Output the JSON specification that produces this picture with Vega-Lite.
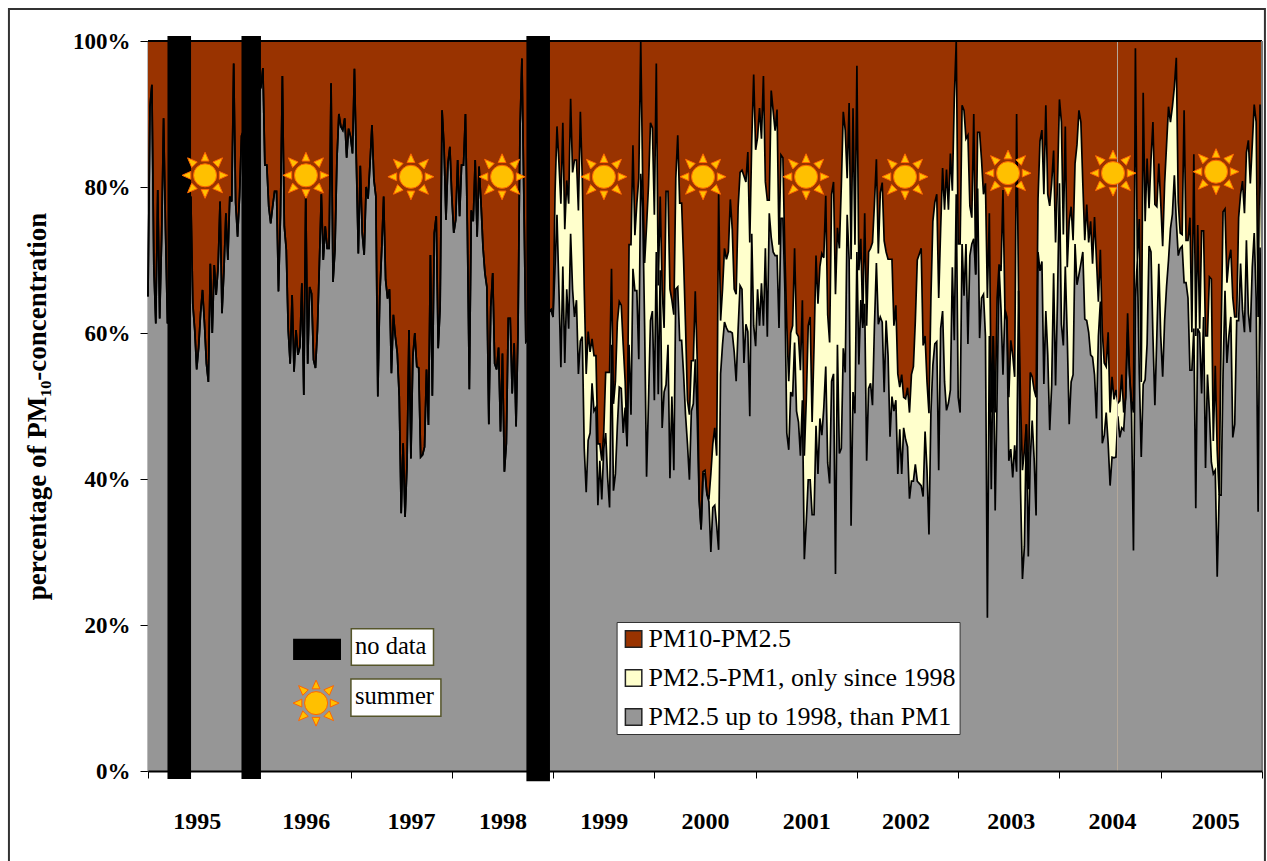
{"$schema":"https://vega.github.io/schema/vega-lite/v6.json","width":1114,"height":730,"autosize":"none","padding":{"left":148,"top":41,"right":5,"bottom":90},"background":"white","config":{"view":{"stroke":null},"font":"Liberation Serif"},
"datasets":{"pm":[
{"w":0,"a":65,"b":65},{"w":1,"a":91,"b":91},{"w":2,"a":94,"b":94},{"w":3,"a":69,"b":69},{"w":4,"a":61.3,"b":61.3},{"w":5,"a":79.6,"b":79.6},{"w":6,"a":62,"b":62},{"w":7,"a":73,"b":73},{"w":8,"a":89.4,"b":89.4},{"w":9,"a":74,"b":74},{"w":10,"a":61.3,"b":61.3},{"w":22,"a":78.7,"b":78.7},{"w":23,"a":64,"b":64},{"w":24,"a":60.4,"b":60.4},{"w":25,"a":55,"b":55},{"w":26,"a":58,"b":58},{"w":27,"a":62.7,"b":62.7},{"w":28,"a":65.9,"b":65.9},{"w":29,"a":61.3,"b":61.3},{"w":30,"a":55.8,"b":55.8},{"w":31,"a":53.3,"b":53.3},{"w":32,"a":69.5,"b":69.5},{"w":33,"a":60,"b":60},{"w":34,"a":69.3,"b":69.3},{"w":35,"a":65.2,"b":65.2},{"w":36,"a":69,"b":69},{"w":37,"a":78,"b":78},{"w":38,"a":62.7,"b":62.7},{"w":39,"a":68.6,"b":68.6},{"w":40,"a":76.4,"b":76.4},{"w":41,"a":70,"b":70},{"w":42,"a":78.7,"b":78.7},{"w":43,"a":78,"b":78},{"w":44,"a":96.9,"b":96.9},{"w":45,"a":77.8,"b":77.8},{"w":46,"a":73.2,"b":73.2},{"w":47,"a":78.7,"b":78.7},{"w":48,"a":87,"b":87},{"w":58,"a":93.7,"b":93.7},{"w":59,"a":96.3,"b":96.3},{"w":60,"a":83,"b":83},{"w":61,"a":83,"b":83},{"w":62,"a":77.3,"b":77.3},{"w":63,"a":75,"b":75},{"w":64,"a":77.3,"b":77.3},{"w":65,"a":79.4,"b":79.4},{"w":66,"a":79.4,"b":79.4},{"w":67,"a":65.7,"b":65.7},{"w":68,"a":76,"b":76},{"w":69,"a":95.2,"b":95.2},{"w":70,"a":74.6,"b":74.6},{"w":71,"a":71.4,"b":71.4},{"w":72,"a":60.4,"b":60.4},{"w":73,"a":55.8,"b":55.8},{"w":74,"a":65.2,"b":65.2},{"w":75,"a":54.7,"b":54.7},{"w":76,"a":60.4,"b":60.4},{"w":77,"a":57,"b":57},{"w":78,"a":58.1,"b":58.1},{"w":79,"a":66.8,"b":66.8},{"w":80,"a":51.5,"b":51.5},{"w":81,"a":79,"b":79},{"w":82,"a":55.8,"b":55.8},{"w":83,"a":66.3,"b":66.3},{"w":84,"a":65.4,"b":65.4},{"w":85,"a":56.3,"b":56.3},{"w":86,"a":55.2,"b":55.2},{"w":87,"a":60.4,"b":60.4},{"w":88,"a":69.5,"b":69.5},{"w":89,"a":79,"b":79},{"w":90,"a":70,"b":70},{"w":91,"a":74.6,"b":74.6},{"w":92,"a":71.6,"b":71.6},{"w":93,"a":71.6,"b":71.6},{"w":94,"a":94.2,"b":94.2},{"w":95,"a":67,"b":67},{"w":96,"a":71.4,"b":71.4},{"w":97,"a":83.7,"b":83.7},{"w":98,"a":90,"b":90},{"w":99,"a":88.3,"b":88.3},{"w":100,"a":87.8,"b":87.8},{"w":101,"a":89.4,"b":89.4},{"w":102,"a":84,"b":84},{"w":103,"a":88,"b":88},{"w":104,"a":86.9,"b":86.9},{"w":105,"a":84.6,"b":84.6},{"w":106,"a":96.2,"b":96.2},{"w":107,"a":83.2,"b":83.2},{"w":108,"a":70.9,"b":70.9},{"w":109,"a":82.9,"b":82.9},{"w":110,"a":73.7,"b":73.7},{"w":111,"a":70.7,"b":70.7},{"w":112,"a":80,"b":80},{"w":113,"a":78.4,"b":78.4},{"w":114,"a":83.2,"b":83.2},{"w":115,"a":88.5,"b":88.5},{"w":116,"a":81,"b":81},{"w":117,"a":78.7,"b":78.7},{"w":118,"a":51.3,"b":51.3},{"w":119,"a":65,"b":65},{"w":120,"a":71.4,"b":71.4},{"w":121,"a":78.7,"b":78.7},{"w":122,"a":67.3,"b":67.3},{"w":123,"a":64.7,"b":64.7},{"w":124,"a":66,"b":66},{"w":125,"a":54.5,"b":54.5},{"w":126,"a":62.5,"b":62.5},{"w":127,"a":59.5,"b":59.5},{"w":128,"a":57.2,"b":57.2},{"w":129,"a":51.3,"b":51.3},{"w":130,"a":35.3,"b":35.3},{"w":131,"a":44.9,"b":44.9},{"w":132,"a":34.8,"b":34.8},{"w":133,"a":42,"b":42},{"w":134,"a":60.4,"b":60.4},{"w":135,"a":42.8,"b":42.8},{"w":136,"a":56.8,"b":56.8},{"w":137,"a":60,"b":60},{"w":138,"a":55.4,"b":55.4},{"w":139,"a":55.2,"b":55.2},{"w":140,"a":43,"b":43},{"w":141,"a":43.3,"b":43.3},{"w":142,"a":44.4,"b":44.4},{"w":143,"a":55,"b":55},{"w":144,"a":47.4,"b":47.4},{"w":145,"a":70.7,"b":70.7},{"w":146,"a":51.4,"b":51.4},{"w":147,"a":73.7,"b":73.7},{"w":148,"a":76,"b":76},{"w":149,"a":57.9,"b":57.9},{"w":150,"a":63.6,"b":63.6},{"w":151,"a":90.5,"b":90.5},{"w":152,"a":85.5,"b":85.5},{"w":153,"a":75.5,"b":75.5},{"w":154,"a":83.2,"b":83.2},{"w":155,"a":85.5,"b":85.5},{"w":156,"a":78.7,"b":78.7},{"w":157,"a":73.7,"b":73.7},{"w":158,"a":75.5,"b":75.5},{"w":159,"a":83.7,"b":83.7},{"w":160,"a":76,"b":76},{"w":161,"a":83,"b":83},{"w":162,"a":83,"b":83},{"w":163,"a":90,"b":90},{"w":164,"a":74,"b":74},{"w":165,"a":52.3,"b":52.3},{"w":166,"a":76.8,"b":76.8},{"w":167,"a":75.3,"b":75.3},{"w":168,"a":83.7,"b":83.7},{"w":169,"a":73.2,"b":73.2},{"w":170,"a":82.8,"b":82.8},{"w":171,"a":77.8,"b":77.8},{"w":172,"a":71.8,"b":71.8},{"w":173,"a":68.2,"b":68.2},{"w":174,"a":66.3,"b":66.3},{"w":175,"a":47.5,"b":47.5},{"w":176,"a":63.6,"b":63.6},{"w":177,"a":68.2,"b":68.2},{"w":178,"a":55.8,"b":55.8},{"w":179,"a":55,"b":55},{"w":180,"a":58,"b":58},{"w":181,"a":46.5,"b":46.5},{"w":182,"a":57.2,"b":57.2},{"w":183,"a":41,"b":41},{"w":184,"a":44.9,"b":44.9},{"w":185,"a":62,"b":62},{"w":186,"a":62,"b":62},{"w":187,"a":51.7,"b":51.7},{"w":188,"a":58.6,"b":58.6},{"w":189,"a":47.2,"b":47.2},{"w":190,"a":60.4,"b":60.4},{"w":191,"a":87.8,"b":87.8},{"w":192,"a":97.6,"b":97.6},{"w":193,"a":78.7,"b":78.7},{"w":194,"a":58.8,"b":58.8},
{"w":207,"a":63.2,"b":63.2},{"w":208,"a":62.2,"b":62.2},{"w":209,"a":69,"b":79.2},{"w":210,"a":76.2,"b":88.3},{"w":211,"a":66,"b":83.3},{"w":212,"a":55.3,"b":77.7},{"w":213,"a":69.1,"b":88.8},{"w":214,"a":55.9,"b":74.2},{"w":215,"a":66,"b":80.9},{"w":216,"a":60.6,"b":77.7},{"w":217,"a":73.6,"b":92.1},{"w":218,"a":66,"b":82},{"w":219,"a":62.2,"b":83.7},{"w":220,"a":64.5,"b":83.7},{"w":221,"a":54.4,"b":76.8},{"w":222,"a":58.9,"b":90.3},{"w":223,"a":59.5,"b":81.2},{"w":224,"a":44.2,"b":66},{"w":225,"a":38.2,"b":54.4},{"w":226,"a":45.3,"b":60.2},{"w":227,"a":46.3,"b":57.4},{"w":228,"a":53.1,"b":59.2},{"w":229,"a":49.3,"b":56.9},{"w":230,"a":49.8,"b":56.9},{"w":231,"a":36.4,"b":44.8},{"w":232,"a":42.5,"b":44.8},{"w":233,"a":37.2,"b":42.5},{"w":234,"a":44.2,"b":46.3},{"w":235,"a":46.3,"b":54.6},{"w":236,"a":40.2,"b":54.6},{"w":237,"a":36.1,"b":54.6},{"w":238,"a":58.4,"b":68.8},{"w":239,"a":38.4,"b":50.3},{"w":240,"a":40.7,"b":53.4},{"w":241,"a":47.3,"b":61.5},{"w":242,"a":52.6,"b":64.3},{"w":243,"a":52.4,"b":63.8},{"w":244,"a":46.3,"b":58.4},{"w":245,"a":49.8,"b":53.4},{"w":246,"a":44.5,"b":44.5},{"w":247,"a":58.4,"b":72.1},{"w":248,"a":48.8,"b":72.1},{"w":249,"a":68.8,"b":85.7},{"w":250,"a":65.8,"b":73.4},{"w":251,"a":65.8,"b":77.7},{"w":252,"a":56.4,"b":81.2},{"w":253,"a":81.8,"b":100},{"w":254,"a":77.2,"b":81.2},{"w":255,"a":61,"b":69.6},{"w":256,"a":40.3,"b":74.7},{"w":257,"a":50.8,"b":80.2},{"w":258,"a":61.7,"b":88.8},{"w":259,"a":63,"b":88.1},{"w":260,"a":50.8,"b":76.2},{"w":261,"a":71.1,"b":96.9},{"w":262,"a":51.6,"b":66.5},{"w":263,"a":68.6,"b":78.7},{"w":264,"a":47,"b":66},{"w":265,"a":51.9,"b":60.7},{"w":266,"a":52.9,"b":79.4},{"w":267,"a":58.4,"b":79.4},{"w":268,"a":40.1,"b":66},{"w":269,"a":51.3,"b":64.5},{"w":270,"a":41.2,"b":62.5},{"w":271,"a":66,"b":81.2},{"w":272,"a":66.3,"b":87.1},{"w":273,"a":59,"b":77.8},{"w":274,"a":59,"b":77.8},{"w":275,"a":54.4,"b":70.1},{"w":276,"a":48.8,"b":61},{"w":277,"a":44.8,"b":50.8},{"w":278,"a":39.9,"b":48.8},{"w":279,"a":49.3,"b":56.2},{"w":280,"a":50.3,"b":56.2},{"w":281,"a":56.4,"b":65.7},{"w":282,"a":48.3,"b":56.4},{"w":283,"a":37.2,"b":37.2},{"w":284,"a":33.1,"b":33.1},{"w":285,"a":40.7,"b":41},{"w":286,"a":40.7,"b":41.2},{"w":287,"a":37.9,"b":37.9},{"w":288,"a":36.9,"b":37.2},{"w":289,"a":30,"b":40.7},{"w":290,"a":36.1,"b":44.8},{"w":291,"a":36.4,"b":47},{"w":292,"a":33.6,"b":43.2},{"w":293,"a":30.3,"b":79},{"w":294,"a":54.4,"b":61.7},{"w":295,"a":58.4,"b":66},{"w":296,"a":61.5,"b":71.6},{"w":297,"a":60.7,"b":70.1},{"w":298,"a":60.2,"b":71.1},{"w":299,"a":60.2,"b":78.3},{"w":300,"a":60,"b":74.2},{"w":301,"a":57.4,"b":66},{"w":302,"a":53.4,"b":65.3},{"w":303,"a":60.5,"b":77.2},{"w":304,"a":66.5,"b":82},{"w":305,"a":66,"b":82.3},{"w":306,"a":55.9,"b":81.5},{"w":307,"a":61.2,"b":80.7},{"w":308,"a":60.2,"b":84.8},{"w":309,"a":48.6,"b":72.4},{"w":310,"a":73.6,"b":86.3},{"w":311,"a":61,"b":95.4},{"w":312,"a":58.2,"b":85.1},{"w":313,"a":66,"b":86.8},{"w":314,"a":61,"b":90.8},{"w":315,"a":66.8,"b":86.6},{"w":316,"a":61,"b":95.2},{"w":317,"a":71.6,"b":80.7},{"w":318,"a":59.5,"b":78.2},{"w":319,"a":76.4,"b":78.2},{"w":320,"a":73.1,"b":93.2},{"w":321,"a":71.1,"b":90.4},{"w":322,"a":70.6,"b":87.7},{"w":323,"a":70.6,"b":90.6},{"w":324,"a":60.7,"b":72.1},{"w":325,"a":75.7,"b":84.4},{"w":326,"a":75.7,"b":84},{"w":327,"a":66,"b":71.1},{"w":328,"a":46.3,"b":61},{"w":329,"a":44,"b":53.4},{"w":330,"a":51.9,"b":60},{"w":331,"a":51.3,"b":61},{"w":332,"a":58.7,"b":71.6},{"w":333,"a":49.3,"b":60},{"w":334,"a":47.8,"b":59.5},{"w":335,"a":43.2,"b":54.9},{"w":336,"a":50.8,"b":64.5},{"w":337,"a":29,"b":43.2},{"w":338,"a":34.1,"b":50.8},{"w":339,"a":39.9,"b":61},{"w":340,"a":39.9,"b":62.2},{"w":341,"a":35.1,"b":47.8},{"w":342,"a":35.1,"b":58.4},{"w":343,"a":47.3,"b":70.6},{"w":344,"a":40.7,"b":64},{"w":345,"a":48.3,"b":69.1},{"w":346,"a":46,"b":70.9},{"w":347,"a":49.8,"b":70.3},{"w":348,"a":55.4,"b":78.8},{"w":349,"a":42.2,"b":62.5},{"w":350,"a":39.4,"b":58.7},{"w":351,"a":53.4,"b":79},{"w":352,"a":54.4,"b":80.7},{"w":353,"a":27,"b":65.3},{"w":354,"a":58.4,"b":74.4},{"w":355,"a":43.5,"b":71.6},{"w":356,"a":44.2,"b":80.2},{"w":357,"a":57.9,"b":90.3},{"w":358,"a":54.6,"b":87.8},{"w":359,"a":76.2,"b":81.2},{"w":360,"a":70.1,"b":91.5},{"w":361,"a":33.6,"b":70.1},{"w":362,"a":51.9,"b":90.8},{"w":363,"a":49,"b":72.1},{"w":364,"a":71.1,"b":96.6},{"w":365,"a":55.7,"b":68.6},{"w":366,"a":64.5,"b":72.9},{"w":367,"a":60.7,"b":61.5},{"w":368,"a":64,"b":76.4},{"w":369,"a":42.5,"b":61},{"w":370,"a":52.4,"b":71.1},{"w":371,"a":53.1,"b":71.6},{"w":372,"a":50.1,"b":72.4},{"w":373,"a":61,"b":77.7},{"w":374,"a":69.6,"b":83.8},{"w":375,"a":61.2,"b":70.9},{"w":376,"a":62.2,"b":79.2},{"w":377,"a":61.5,"b":80.6},{"w":378,"a":51.9,"b":72.6},{"w":379,"a":61.7,"b":71.1},{"w":380,"a":56.9,"b":70.1},{"w":381,"a":45.8,"b":70.1},{"w":382,"a":51.3,"b":70.1},{"w":383,"a":49.3,"b":61},{"w":384,"a":50.8,"b":63.8},{"w":385,"a":40.7,"b":54.4},{"w":386,"a":46.8,"b":52.6},{"w":387,"a":40.7,"b":54.3},{"w":388,"a":47,"b":51.2},{"w":389,"a":45.4,"b":51},{"w":390,"a":44.4,"b":52.5},{"w":391,"a":37.3,"b":49.1},{"w":392,"a":39.7,"b":54.3},{"w":393,"a":39.7,"b":55.4},{"w":394,"a":42,"b":61.7},{"w":395,"a":39.7,"b":70},{"w":396,"a":39.4,"b":70.8},{"w":397,"a":39.1,"b":71.6},{"w":398,"a":37.6,"b":58.3},{"w":399,"a":46.5,"b":59.6},{"w":400,"a":41.2,"b":53.3},{"w":401,"a":32.4,"b":49},{"w":402,"a":49.1,"b":64.8},{"w":403,"a":55.6,"b":75.3},{"w":404,"a":58.5,"b":77.9},{"w":405,"a":58.8,"b":79},{"w":406,"a":41.2,"b":64.8},{"w":407,"a":60.6,"b":74.3},{"w":408,"a":63,"b":82.6},{"w":409,"a":53.3,"b":76.9},{"w":410,"a":49.4,"b":82.4},{"w":411,"a":50.4,"b":76.9},{"w":412,"a":52.2,"b":84.6},{"w":413,"a":69,"b":79.5},{"w":414,"a":59,"b":92.1},{"w":415,"a":79,"b":100},{"w":416,"a":51.2,"b":72.2},{"w":417,"a":49.1,"b":72.2},{"w":418,"a":72.2,"b":91.2},{"w":419,"a":65.1,"b":90.5},{"w":420,"a":72.2,"b":86.6},{"w":421,"a":58.5,"b":87.1},{"w":422,"a":70.6,"b":77.4},{"w":423,"a":72.2,"b":75.8},{"w":424,"a":72.9,"b":90},{"w":425,"a":68,"b":68},{"w":426,"a":79.8,"b":87.5},{"w":427,"a":59.3,"b":87.5},{"w":428,"a":64.8,"b":83.7},{"w":429,"a":65.3,"b":79},{"w":430,"a":59.6,"b":80.5},{"w":431,"a":21,"b":64.8},{"w":432,"a":59.6,"b":76.4},{"w":433,"a":38.6,"b":49.1},{"w":434,"a":59.6,"b":59.6},{"w":435,"a":35.7,"b":49.1},{"w":436,"a":51.7,"b":64.8},{"w":437,"a":69,"b":69.4},{"w":438,"a":63.2,"b":68.5},{"w":439,"a":54.3,"b":79.6},{"w":440,"a":63.2,"b":63.2},{"w":441,"a":61.7,"b":62.2},{"w":442,"a":42.5,"b":51.2},{"w":443,"a":44.1,"b":59},{"w":444,"a":40.2,"b":57},{"w":445,"a":44.6,"b":54},{"w":446,"a":41,"b":90},{"w":447,"a":65.8,"b":65.8},{"w":448,"a":38.6,"b":50.7},{"w":449,"a":26.3,"b":41.2},{"w":450,"a":30.8,"b":43.9},{"w":451,"a":47.5,"b":47.5},{"w":452,"a":29.4,"b":38.6},{"w":453,"a":42.8,"b":54.6},{"w":454,"a":48,"b":54},{"w":455,"a":42.8,"b":52.2},{"w":456,"a":35,"b":51.2},{"w":457,"a":71.1,"b":78.4},{"w":458,"a":68.5,"b":86.3},{"w":459,"a":69.8,"b":87.8},{"w":460,"a":53,"b":79},{"w":461,"a":63,"b":91.2},{"w":462,"a":57,"b":79},{"w":463,"a":46.7,"b":77.4},{"w":464,"a":52.8,"b":80.5},{"w":465,"a":68.2,"b":85},{"w":466,"a":52.8,"b":72.4},{"w":467,"a":64.8,"b":80.5},{"w":468,"a":80.5,"b":92},{"w":469,"a":61.2,"b":88.9},{"w":470,"a":58.3,"b":73.5},{"w":471,"a":69.1,"b":88.3},{"w":472,"a":59.6,"b":69},{"w":473,"a":47.5,"b":75.3},{"w":474,"a":53.3,"b":77.3},{"w":475,"a":54.3,"b":72.7},{"w":476,"a":72.2,"b":83.2},{"w":477,"a":66.6,"b":85.8},{"w":478,"a":68,"b":90.5},{"w":479,"a":69.5,"b":88.9},{"w":480,"a":71.1,"b":80.5},{"w":481,"a":61.9,"b":72.7},{"w":482,"a":61.7,"b":77.6},{"w":483,"a":60.1,"b":72.4},{"w":484,"a":57,"b":75.3},{"w":485,"a":56.7,"b":69.5},{"w":486,"a":54.3,"b":75.9},{"w":487,"a":48.3,"b":70},{"w":488,"a":59.6,"b":64.3},{"w":489,"a":64.3,"b":71.4},{"w":490,"a":44.9,"b":60.1},{"w":491,"a":46,"b":55.9},{"w":492,"a":49.1,"b":55.4},{"w":493,"a":44.9,"b":60.1},{"w":494,"a":39.1,"b":49.1},{"w":495,"a":43,"b":54},{"w":496,"a":42.9,"b":50.9},{"w":497,"a":43,"b":52.2},{"w":498,"a":48.6,"b":50.4},{"w":499,"a":45.7,"b":50.7},{"w":500,"a":47,"b":54.3},{"w":501,"a":46.7,"b":49.1},{"w":502,"a":51.2,"b":51.2},{"w":503,"a":60.1,"b":62.7},{"w":504,"a":54.3,"b":54.3},{"w":505,"a":49.1,"b":50.7},{"w":506,"a":30.2,"b":49.1},{"w":507,"a":64.8,"b":99},{"w":508,"a":70,"b":70},{"w":509,"a":54.3,"b":75.6},{"w":510,"a":43,"b":53.3},{"w":511,"a":53,"b":92.9},{"w":512,"a":53.6,"b":75.3},{"w":513,"a":58.5,"b":83.9},{"w":514,"a":71.9,"b":77.1},{"w":515,"a":71.1,"b":83.7},{"w":516,"a":59.6,"b":88.9},{"w":517,"a":50.1,"b":77.6},{"w":518,"a":59.6,"b":77.3},{"w":519,"a":69.5,"b":83.2},{"w":520,"a":59.6,"b":77.9},{"w":521,"a":54,"b":71.9},{"w":522,"a":61.7,"b":80.5},{"w":523,"a":66.4,"b":85.8},{"w":524,"a":70,"b":91},{"w":525,"a":74.3,"b":88.9},{"w":526,"a":76.3,"b":91},{"w":527,"a":81.6,"b":93.7},{"w":528,"a":75.3,"b":97.7},{"w":529,"a":70.6,"b":77.9},{"w":530,"a":71.6,"b":73.7},{"w":531,"a":71.9,"b":73.5},{"w":532,"a":66.9,"b":90.5},{"w":533,"a":66.9,"b":72.7},{"w":534,"a":64.8,"b":72.7},{"w":535,"a":54.9,"b":75.8},{"w":536,"a":54.9,"b":60.1},{"w":537,"a":60.6,"b":84.5},{"w":538,"a":36,"b":59.6},{"w":539,"a":60.6,"b":74.8},{"w":540,"a":60,"b":60.6},{"w":541,"a":51.7,"b":74},{"w":542,"a":62.2,"b":74},{"w":543,"a":41.5,"b":59.6},{"w":544,"a":54.3,"b":59.6},{"w":545,"a":49.1,"b":67.7},{"w":546,"a":42.3,"b":67.4},{"w":547,"a":40.7,"b":45.2},{"w":548,"a":41.2,"b":55.5},{"w":549,"a":26.6,"b":43.9},{"w":550,"a":37.8,"b":37.8},{"w":551,"a":37.8,"b":59.6},{"w":552,"a":54.3,"b":76.6},{"w":553,"a":65.8,"b":77},{"w":554,"a":55.9,"b":66.9},{"w":555,"a":59.6,"b":70},{"w":556,"a":62.2,"b":71.4},{"w":557,"a":45.7,"b":64.8},{"w":558,"a":47.5,"b":62.2},{"w":559,"a":61.7,"b":62.2},{"w":560,"a":61.7,"b":75.8},{"w":561,"a":69.5,"b":79},{"w":562,"a":63.2,"b":80.8},{"w":563,"a":60.1,"b":76.4},{"w":564,"a":72.7,"b":84.7},{"w":565,"a":62.7,"b":86.4},{"w":566,"a":60.1,"b":80.5},{"w":567,"a":69,"b":85.8},{"w":568,"a":73.7,"b":91.3},{"w":569,"a":64.8,"b":88.9},{"w":570,"a":35.5,"b":62.2},{"w":571,"a":71.7,"b":91.3},{"w":572,"a":54.3,"b":70}
],
"gaps":[{"w":10,"w2":22.1,"p":100.7,"p2":-1.1},{"w":48,"w2":58,"p":100.7,"p2":-1.1},{"w":194.3,"w2":206.4,"p":100.7,"p2":-1.4},{"w":74.5,"w2":99.1,"p":18.1,"p2":15.2}],
"boxes":[{"w":104.4,"w2":146.6,"p":19.5,"p2":14.5,"t":"no data","tw":106.3,"tp":17},{"w":104.2,"w2":150.4,"p":12.6,"p2":7.5,"t":"summer","tw":106.3,"tp":10.1}],
"suns":[{"w":29.3,"p":81.6},{"w":81.1,"p":81.6},{"w":135,"p":81.4},{"w":181.8,"p":81.4},{"w":234.1,"p":81.4},{"w":285,"p":81.4},{"w":337.9,"p":81.4},{"w":388.7,"p":81.4},{"w":441.6,"p":81.9},{"w":495.5,"p":81.9},{"w":548.4,"p":82.1},{"w":86.3,"p":9.3}],
"frame":[{"w":-71.4,"w2":573.5,"p":104.4,"p2":-14}],
"marks":[{"w":497.8}]},
"encoding":{"x":{"field":"w","type":"quantitative","scale":{"domain":[0,572],"nice":false,"zero":false},"axis":{"title":null,"grid":false,"zindex":1,"values":[0,25,52,81,104,135,156,182,208,234,260,286,312,338,364,389,416,443,468,495,520,548,572],"tickSize":7,"tickColor":"black","tickWidth":1,"tickOpacity":{"condition":{"test":"datum.value%52==0","value":1},"value":0},"domainColor":"black","domainWidth":2,"labelExpr":"datum.value%52==0?'':''+(1995+floor(datum.value/52))","labelOverlap":false,"labelFlush":false,"labelPadding":31,"labelFont":"Liberation Serif","labelFontWeight":"bold","labelFontSize":24,"labelColor":"black"}}},
"layer":[
{"data":{"name":"pm"},"mark":{"type":"area"},"encoding":{"y":{"field":"b","type":"quantitative","scale":{"domain":[0,100],"nice":false},"axis":{"title":"percentage of PM₁₀-concentration","grid":false,"values":[0,20,40,60,80,100],"labelExpr":"datum.value+'%'","tickSize":8,"tickColor":"black","domainColor":"#777","domainWidth":2,"labelPadding":10,"labelFont":"Liberation Serif","labelFontWeight":"bold","labelFontSize":23,"labelColor":"black","titleFont":"Liberation Serif","titleFontWeight":"bold","titleFontSize":27,"titleColor":"black","titleX":-97,"titleY":365}},"y2":{"datum":100},"color":{"datum":"PM10-PM2.5","type":"nominal","scale":{"domain":["PM10-PM2.5","PM2.5-PM1, only since 1998","PM2.5 up to 1998, than PM1"],"range":["#993300","#FFFFCC","#969696"]},"legend":{"title":null,"orient":"none","legendX":468.6,"legendY":581,"fillColor":"white","strokeColor":"#333","padding":4,"symbolType":"square","symbolSize":270,"symbolStrokeColor":"#222","symbolStrokeWidth":1.5,"labelFont":"Liberation Serif","labelFontSize":26,"labelColor":"black","rowPadding":13,"labelOffset":2,"labelLimit":400,"symbolOpacity":1}}}},
{"data":{"name":"pm"},"mark":{"type":"area"},"encoding":{"y":{"field":"a","type":"quantitative","scale":{"domain":[0,100],"nice":false}},"y2":{"field":"b"},"color":{"datum":"PM2.5-PM1, only since 1998","type":"nominal"}}},
{"data":{"name":"pm"},"mark":{"type":"area"},"encoding":{"y":{"field":"a","type":"quantitative","scale":{"domain":[0,100],"nice":false}},"y2":{"datum":0},"color":{"datum":"PM2.5 up to 1998, than PM1","type":"nominal"}}},
{"data":{"name":"pm"},"mark":{"type":"line","color":"black","strokeWidth":1.7},"encoding":{"y":{"field":"b","type":"quantitative","scale":{"domain":[0,100],"nice":false}}}},
{"data":{"name":"pm"},"mark":{"type":"line","color":"black","strokeWidth":1.7},"encoding":{"y":{"field":"a","type":"quantitative","scale":{"domain":[0,100],"nice":false}}}},
{"data":{"name":"marks"},"mark":{"type":"rule","color":"#B5A89A","strokeWidth":1},"encoding":{}},
{"data":{"values":[{"p":100}]},"mark":{"type":"rule","color":"black","strokeWidth":2},"encoding":{"x":null,"y":{"field":"p","type":"quantitative","scale":{"domain":[0,100],"nice":false}}}},
{"data":{"values":[{"w":572}]},"mark":{"type":"rule","color":"#777","strokeWidth":2},"encoding":{}},
{"data":{"name":"gaps"},"mark":{"type":"rect","color":"black"},"encoding":{"x2":{"field":"w2"},"y":{"field":"p","type":"quantitative","scale":{"domain":[0,100],"nice":false}},"y2":{"field":"p2"}}},
{"data":{"name":"boxes"},"mark":{"type":"rect","fill":"white","stroke":"#55552A","strokeWidth":1.5},"encoding":{"x2":{"field":"w2"},"y":{"field":"p","type":"quantitative","scale":{"domain":[0,100],"nice":false}},"y2":{"field":"p2"}}},
{"data":{"name":"boxes"},"mark":{"type":"text","align":"left","baseline":"middle","font":"Liberation Serif","fontSize":24.5,"color":"black"},"encoding":{"x":{"field":"tw","type":"quantitative"},"y":{"field":"tp","type":"quantitative","scale":{"domain":[0,100],"nice":false}},"text":{"field":"t"}}},
{"data":{"name":"suns"},"mark":{"type":"point","filled":true,"opacity":1,"size":2116,"fill":"#FFC000","stroke":"#FF6600","strokeWidth":1,"shape":"M-.17,-.62L0,-1L.17,-.62ZM-.17,.62L0,1L.17,.62ZM.62,-.17L1,0L.62,.17ZM-.62,-.17L-1,0L-.62,.17ZM.34,-.58L.76,-.76L.58,-.34ZM-.34,-.58L-.76,-.76L-.58,-.34ZM.34,.58L.76,.76L.58,.34ZM-.34,.58L-.76,.76L-.58,.34Z"},"encoding":{"y":{"field":"p","type":"quantitative","scale":{"domain":[0,100],"nice":false}}}},
{"data":{"name":"suns"},"mark":{"type":"point","shape":"circle","filled":true,"opacity":1,"size":531,"fill":"#FFC000","stroke":"#FF6600","strokeWidth":1},"encoding":{"y":{"field":"p","type":"quantitative","scale":{"domain":[0,100],"nice":false}}}},
{"data":{"name":"frame"},"mark":{"type":"rect","filled":false,"stroke":"#333","strokeWidth":2,"clip":false},"encoding":{"x2":{"field":"w2"},"y":{"field":"p","type":"quantitative","scale":{"domain":[0,100],"nice":false}},"y2":{"field":"p2"}}}
]}
